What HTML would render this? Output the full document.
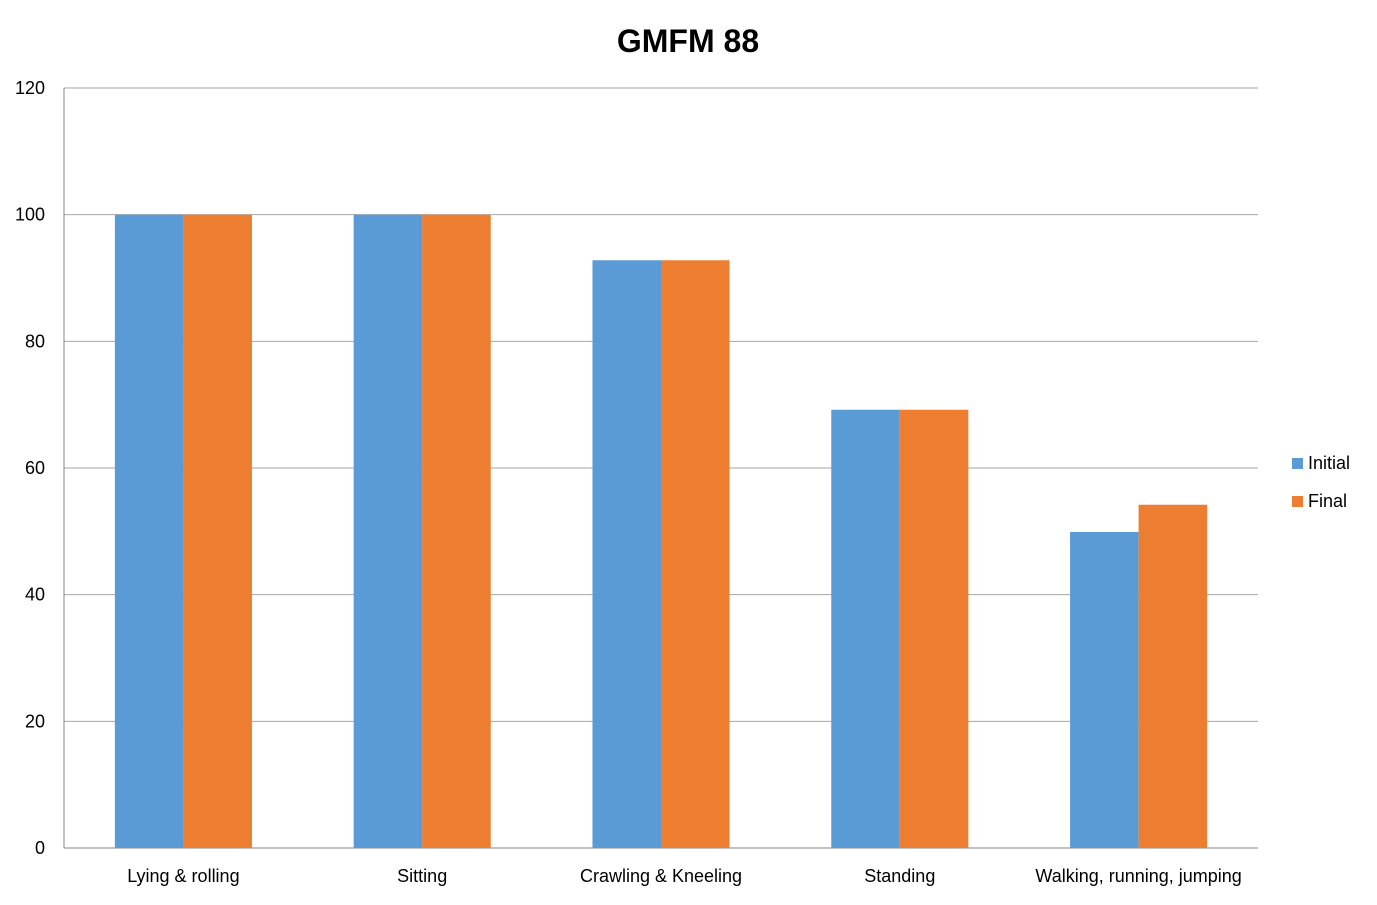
<!DOCTYPE html>
<html><head><meta charset="utf-8"><style>
body{margin:0;background:#fff;font-family:"Liberation Sans",sans-serif;}
svg text{font-family:"Liberation Sans",sans-serif;}
</style></head><body>
<svg width="1377" height="900">
<text x="688" y="52" text-anchor="middle" font-size="32" font-weight="bold">GMFM 88</text>
<g id="grid"></g><g id="bars"></g><g id="labels"></g>
<g>
<rect x="1292" y="458" width="11" height="11" fill="#5B9BD5"/>
<text x="1308" y="469" font-size="18">Initial</text>
<rect x="1292" y="496" width="11" height="11" fill="#ED7D31"/>
<text x="1308" y="507" font-size="18">Final</text>
</g>
</svg>
<script>
const categories=["Lying & rolling","Sitting","Crawling & Kneeling","Standing","Walking, running, jumping"];
const initialValues=[100,100,92.8,69.2,49.9];
const finalValues=[100,100,92.8,69.2,54.2];
const yTicks=[0,20,40,60,80,100,120];
const NS="http://www.w3.org/2000/svg";
const x0=64,x1=1258,y0=848,y1=88,yMax=120;
const y=v=>y0-(v/yMax)*(y0-y1);
const band=(x1-x0)/categories.length;
const bw=band*0.287;
function mk(t,a,p){const e=document.createElementNS(NS,t);for(const k in a)e.setAttribute(k,a[k]);document.getElementById(p).appendChild(e);return e;}
yTicks.forEach(t=>{
 const l=mk('line',{x1:x0,x2:x1,y1:y(t),y2:y(t),stroke:t===0?'#868686':'#a6a6a6','stroke-width':1},'grid');
 
 
 const tx=mk('text',{x:45,y:y(t)+6,'text-anchor':'end','font-size':18},'labels');
 tx.textContent=t;
 
 
});
const ax=mk('line',{x1:x0,x2:x0,y1:y1,y2:y0,stroke:'#868686'},'grid');


categories.forEach((c,i)=>{
 const cx=x0+band*(i+0.5);
 const a=mk('rect',{x:cx-bw,y:y(initialValues[i]),width:bw,height:y0-y(initialValues[i]),fill:'#5B9BD5'},'bars');
 
 
 const b=mk('rect',{x:cx,y:y(finalValues[i]),width:bw,height:y0-y(finalValues[i]),fill:'#ED7D31'},'bars');
 
 
 const t=mk('text',{x:cx,y:882,'text-anchor':'middle','font-size':18},'labels');
 t.textContent=c;
 
 
});
</script>
</body></html>
